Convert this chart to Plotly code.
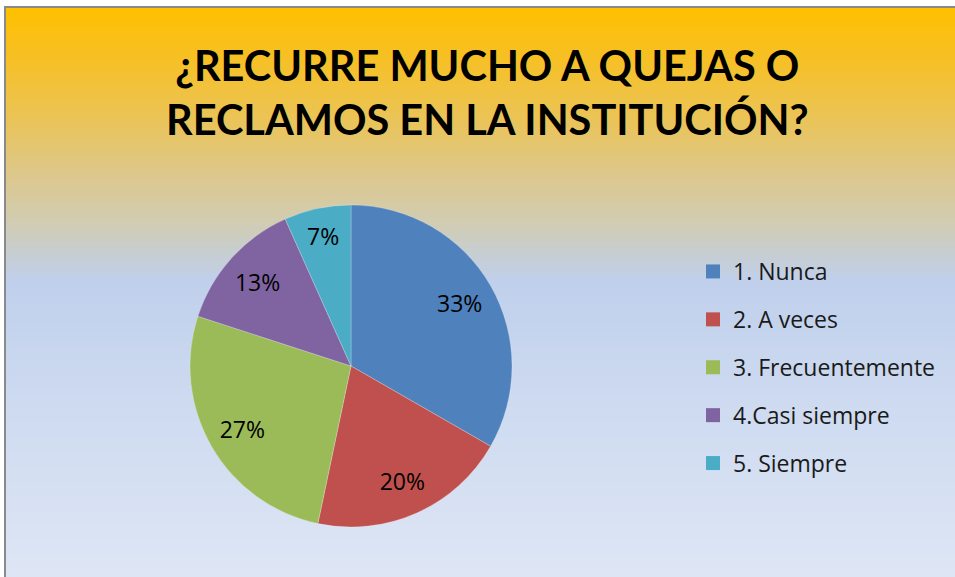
import plotly.graph_objects as go

categories = ["1. Nunca", "2. A veces", "3. Frecuentemente", "4.Casi siempre", "5. Siempre"]
values = [33.3, 20.0, 26.7, 13.3, 6.7]
colors = ["#4F81BD", "#C0504D", "#9BBB59", "#8064A2", "#4BACC6"]
title_text = "¿RECURRE MUCHO A QUEJAS O<br>RECLAMOS EN LA INSTITUCIÓN?"

W, H = 955, 577

# background gradient stops (pixel y, rgb)
stops = [
    (8, (255, 192, 0)),
    (60, (246, 192, 38)),
    (120, (234, 196, 88)),
    (175, (221, 200, 140)),
    (222, (209, 204, 178)),
    (256, (198, 206, 212)),
    (282, (192, 208, 236)),
    (400, (205, 218, 240)),
    (577, (222, 230, 245)),
]


def col_at(y):
    for (y0, c0), (y1, c1) in zip(stops[:-1], stops[1:]):
        if y0 <= y <= y1:
            t = (y - y0) / (y1 - y0)
            return "rgb(%d,%d,%d)" % tuple(round(a + (b - a) * t) for a, b in zip(c0, c1))
    return "rgb(%d,%d,%d)" % stops[-1][1]


shapes = []
step = 3
y = 8
while y < H:
    y2 = min(y + step, H)
    shapes.append(dict(type="rect", xref="paper", yref="paper",
                       x0=6 / W, x1=1, y0=1 - y2 / H, y1=1 - y / H,
                       fillcolor=col_at(y + step / 2), line=dict(width=0), layer="below"))
    y = y2
# border
shapes.append(dict(type="line", xref="paper", yref="paper", x0=5 / W, x1=1, y0=1 - 7 / H, y1=1 - 7 / H,
                   line=dict(color="#8a8a8a", width=2), layer="below"))
shapes.append(dict(type="line", xref="paper", yref="paper", x0=5 / W, x1=5 / W, y0=0, y1=1 - 6 / H,
                   line=dict(color="#8a8a8a", width=2), layer="below"))

cx, cy, r = 351, 366, 161
dom = dict(x=[(cx - r) / W, (cx + r) / W], y=[1 - (cy + r) / H, 1 - (cy - r) / H])
fig = go.Figure()
# filled pie (no text)
fig.add_trace(go.Pie(
    labels=categories, values=values, sort=False, direction="clockwise", rotation=0,
    marker=dict(colors=colors, line=dict(color="rgba(255,255,255,0.4)", width=0.6)),
    textinfo="none", domain=dom, showlegend=False, hoverinfo="label+percent",
))
# transparent ring to place the percentage labels near the outer part of each slice
fig.add_trace(go.Pie(
    labels=categories, values=values, sort=False, direction="clockwise", rotation=0, hole=0.56,
    marker=dict(colors=["rgba(0,0,0,0)"] * len(values), line=dict(width=0)),
    texttemplate="%{percent:.0%}", textposition="inside", insidetextorientation="horizontal",
    textfont=dict(family="Open Sans", size=23, color="black"),
    domain=dom, showlegend=False, hoverinfo="skip",
))
for i, (cat, c) in enumerate(zip(categories, colors)):
    fig.add_trace(go.Scatter(x=[None], y=[None], mode="markers", name=cat,
                             marker=dict(symbol="square", size=14, color=c),
                             legendgroup=f"g{i}", showlegend=True))

fig.update_layout(
    width=W, height=H,
    margin=dict(l=0, r=0, t=0, b=0),
    paper_bgcolor="white", plot_bgcolor="rgba(0,0,0,0)",
    shapes=shapes,
    xaxis=dict(visible=False), yaxis=dict(visible=False),
    annotations=[dict(text="<b>" + title_text + "</b>", xref="paper", yref="paper",
                      x=487 / W, xanchor="center", y=1 - 92 / H, yanchor="middle",
                      showarrow=False, align="center",
                      font=dict(family="Lato", size=41.5, color="black"))],
    legend=dict(x=693 / W, xanchor="left", y=1 - 250 / H, yanchor="top",
                font=dict(family="Open Sans", size=23, color="#1a1a1a"),
                tracegroupgap=15, bgcolor="rgba(0,0,0,0)", itemclick=False),
    showlegend=True,
)
fig.write_html("out.html", config={"displayModeBar": False},
               post_script="document.body.style.margin='0';")
